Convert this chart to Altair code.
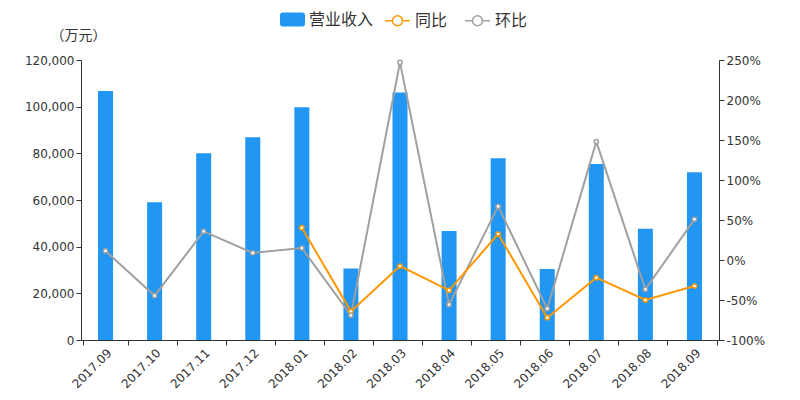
import altair as alt
import pandas as pd

months = ['2017.09', '2017.10', '2017.11', '2017.12', '2018.01', '2018.02', '2018.03',
          '2018.04', '2018.05', '2018.06', '2018.07', '2018.08', '2018.09']
revenue = [106700, 59000, 80000, 86900, 99700, 30600, 106100, 46700, 77900, 30400, 75400, 47700, 71900]
yoy = [None, None, None, None, 40.4, -64.2, -7.5, -37.9, 32.5, -72.1, -22.1, -50.0, -32.5]
mom = [11.3, -44.6, 35.8, 8.8, 15.0, -69.2, 247.0, -55.8, 67.0, -60.8, 148.0, -36.7, 50.8]

series_names = ['营业收入', '同比', '环比']
colors = ['#2196F3', '#FF9800', '#A0A0A0']

FONT = 'DejaVu Sans, Noto Sans CJK SC, sans-serif'
CJK = 'Noto Sans CJK SC, sans-serif'

bars_df = pd.DataFrame({'month': months, 'value': revenue, 'k': series_names[0]})
rows = []
for m, a, b in zip(months, yoy, mom):
    if a is not None:
        rows.append({'month': m, 'pct': a, 'series': series_names[1]})
    if b is not None:
        rows.append({'month': m, 'pct': b, 'series': series_names[2]})
lines_df = pd.DataFrame(rows)

x_axis = alt.Axis(labelAngle=-45, tickBand='extent', labelFontSize=12,
                  labelColor='#333', domainColor='#333', tickColor='#333',
                  labelFont=FONT, grid=False)

bars = alt.Chart(bars_df).mark_bar(size=15).encode(
    x=alt.X('month:N', sort=months, title=None, axis=x_axis),
    y=alt.Y('value:Q', scale=alt.Scale(domain=[0, 120000], nice=False),
            axis=alt.Axis(orient='left', values=list(range(0, 120001, 20000)), format=',.0f',
                          grid=False, title='（万元）', titleAngle=0, titleX=-3, titleY=-18,
                          titleAlign='center', titleBaseline='bottom', titleFontWeight='normal',
                          titleFontSize=14, titleColor='#333', titleFont=CJK,
                          labelFontSize=12, labelColor='#333', domainColor='#333',
                          tickColor='#333', labelFont=FONT)),
    fill=alt.Fill('k:N', scale=alt.Scale(domain=[series_names[0]], range=[colors[0]]),
                  legend=alt.Legend(title=None, orient='none', legendX=199, legendY=-53,
                                    direction='horizontal', symbolSize=625,
                                    symbolType='M-1,-0.36A0.2,0.2,0,0,1,-0.8,-0.56H0.8A0.2,0.2,0,0,1,1,-0.36V0.36A0.2,0.2,0,0,1,0.8,0.56H-0.8A0.2,0.2,0,0,1,-1,0.36Z',
                                    symbolStrokeWidth=0, labelFontSize=16, labelColor='#333',
                                    labelFont=CJK)),
)

lines = alt.Chart(lines_df).mark_line(
    strokeWidth=2,
    point=alt.OverlayMarkDef(filled=False, fill='white', size=18, strokeWidth=1.5),
).encode(
    x=alt.X('month:N', sort=months, title=None, axis=x_axis),
    y=alt.Y('pct:Q', scale=alt.Scale(domain=[-100, 250], nice=False),
            axis=alt.Axis(orient='right', values=list(range(-100, 251, 50)),
                          labelExpr="datum.value + '%'", grid=False, title=None,
                          labelFontSize=12, labelColor='#333', domainColor='#333',
                          tickColor='#333', labelFont=FONT)),
    stroke=alt.Stroke('series:N', scale=alt.Scale(domain=series_names[1:], range=colors[1:]),
                      legend=alt.Legend(title=None, orient='none', legendX=303, legendY=-53,
                                        direction='horizontal', symbolSize=625,
                                        symbolType='M-1,0H-0.4M0.4,0H1M0.4,0A0.4,0.4,0,1,1,-0.4,0A0.4,0.4,0,1,1,0.4,0',
                                        symbolFillColor='white', symbolStrokeWidth=1.5,
                                        labelFontSize=16, labelColor='#333', labelFont=CJK,
                                        columnPadding=14)),
)

chart = alt.layer(bars, lines).resolve_scale(y='independent', fill='independent', stroke='independent').properties(
    width=638, height=280,
    autosize=alt.AutoSizeParams(type='none'),
    padding={'left': 73, 'top': 52, 'right': 70, 'bottom': 52},
).configure(font=FONT).configure_view(stroke='transparent', strokeWidth=0).configure_axis(grid=False)

chart.save("out.html", embed_options={"renderer": "svg", "actions": False})
